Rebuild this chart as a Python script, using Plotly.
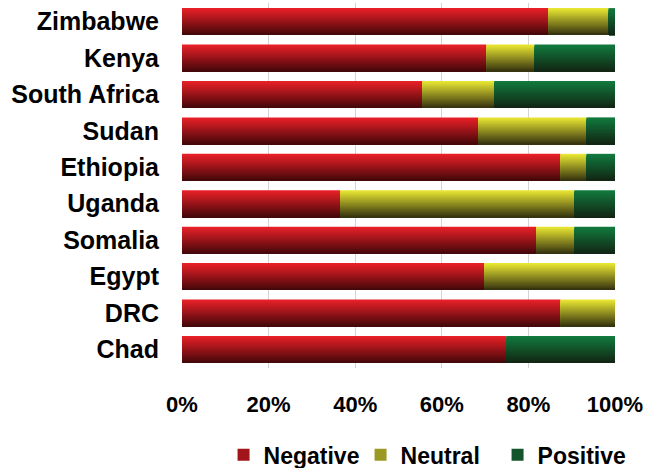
import plotly.graph_objects as go

# Countries listed top to bottom
countries = ["Zimbabwe", "Kenya", "South Africa", "Sudan", "Ethiopia",
             "Uganda", "Somalia", "Egypt", "DRC", "Chad"]

# Share of coverage (%) per country
negative = [84.6, 70.3, 55.5, 68.4, 87.4, 36.5, 81.8, 69.8, 87.4, 74.9]
neutral = [13.9, 11.1, 16.6, 25.0, 6.0, 54.1, 8.8, 30.2, 12.6, 0.0]
positive = [1.5, 18.6, 27.9, 6.6, 6.6, 9.4, 9.4, 0.0, 0.0, 25.1]

series_names = ["Negative", "Neutral", "Positive"]
series_values = [negative, neutral, positive]
x_ticks = [0, 20, 40, 60, 80, 100]

# Top / bottom colours of the vertical gradient for each series
gradients = [
    ((232, 32, 40), (70, 8, 10)),
    ((232, 230, 50), (55, 52, 16)),
    ((18, 122, 62), (18, 38, 20)),
]

FONT = "Liberation Sans, Arial, sans-serif"
BAR_W = 0.74      # bar thickness in category units
STEPS = 24        # gradient bands per bar


def mix(c0, c1, t):
    r, g, b = (round(a + (b_ - a) * t) for a, b_ in zip(c0, c1))
    return f"rgb({r},{g},{b})"


fig = go.Figure()

base = [0.0] * len(countries)
for name, vals, (top, bottom) in zip(series_names, series_values, gradients):
    step = BAR_W / STEPS
    legend_band = int(STEPS * 0.45)
    for i in range(STEPS):
        t = i / (STEPS - 1)
        fig.add_trace(go.Bar(
            y=countries,
            x=vals,
            base=base,
            orientation="h",
            offset=-BAR_W / 2 + i * step,
            width=BAR_W - i * step,
            marker=dict(color=mix(top, bottom, t), line=dict(width=0)),
            name=name,
            legendgroup=name,
            showlegend=(i == legend_band),
            hoverinfo="skip" if i else "x+y+name",
        ))
    base = [b + v for b, v in zip(base, vals)]

fig.update_layout(
    width=648,
    height=468,
    barmode="overlay",
    plot_bgcolor="white",
    paper_bgcolor="white",
    margin=dict(l=182, r=33, t=3, b=100, autoexpand=False),
    font=dict(family=FONT, color="black"),
    xaxis=dict(
        range=[0, 100],
        tickvals=x_ticks,
        ticktext=[f"{v}%" for v in x_ticks],
        showgrid=True,
        gridcolor="#d4d4d4",
        gridwidth=1,
        zeroline=False,
        showline=False,
        ticks="",
        ticklabelstandoff=21,
        tickfont=dict(size=22, family=FONT, weight="bold", color="black"),
        fixedrange=True,
    ),
    yaxis=dict(
        range=[9.51, -0.51],
        showgrid=False,
        zeroline=False,
        showline=False,
        ticks="",
        ticklabelstandoff=22,
        tickfont=dict(size=25, family=FONT, weight="bold", color="black"),
        fixedrange=True,
    ),
    legend=dict(
        orientation="h",
        xref="container",
        yref="container",
        x=0.345,
        xanchor="left",
        y=0.028,
        yanchor="middle",
        font=dict(size=23, family=FONT, weight="bold", color="black"),
        traceorder="normal",
        itemwidth=30,
        entrywidth=92,
        entrywidthmode="pixels",
    ),
)

fig.write_html("out.html")
